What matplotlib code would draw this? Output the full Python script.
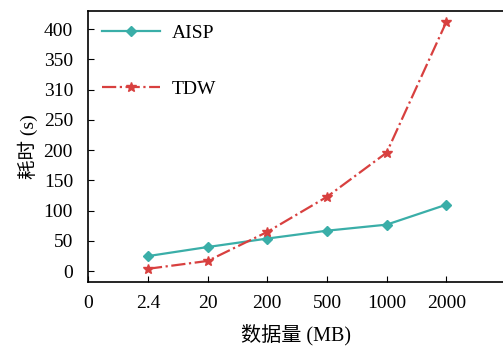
import numpy as np
import matplotlib
matplotlib.use("Agg")
import matplotlib.pyplot as plt

# data
x_labels = ["0", "2.4", "20", "200", "500", "1000", "2000"]
aisp = [25, 40, 54, 67, 77, 110]
tdw = [4, 17, 65, 123, 196, 412]
y_ticks = [0, 50, 100, 150, 200, 250, 300, 350, 400]
y_tick_labels = ["0", "50", "100", "150", "200", "250", "310", "350", "400"]

plt.rcParams['font.family'] = ['Liberation Serif', 'Noto Sans CJK SC']
plt.rcParams['font.size'] = 14

fig = plt.figure(figsize=(5.03, 3.47), dpi=100)
ax = fig.add_axes([0.1755, 0.187, 0.8245, 0.781])

pos = np.arange(1, len(aisp) + 1)
ax.plot(pos, aisp, '-', color='#3aaea8', linewidth=1.6, marker='D', markersize=5.5,
        label='AISP')
ax.plot(pos, tdw, '-.', color='#d8403f', linewidth=1.6, marker='*', markersize=7.5,
        label='TDW')

ax.set_xlim(0, 6.95)
ax.set_ylim(-18, 430)
ax.set_xticks(np.arange(len(x_labels)))
ax.set_xticklabels(x_labels)
ax.set_yticks(y_ticks)
ax.set_yticklabels(y_tick_labels)
ax.tick_params(axis='x', direction='in', length=4, pad=9)
ax.tick_params(axis='y', direction='in', length=4, pad=11)
ax.spines['right'].set_visible(False)
for s in ['left', 'bottom', 'top']:
  ax.spines[s].set_linewidth(1.2)

ax.set_xlabel('数据量 (MB)', fontsize=14.5, labelpad=9)
ax.set_ylabel('耗时 (s)', fontsize=14, labelpad=4)

ax.legend(loc='upper left', frameon=False, handlelength=3.0, handletextpad=0.6,
          labelspacing=2.0, bbox_to_anchor=(-0.005, 1.01), borderaxespad=0.4,
          fontsize=14)

fig.savefig("out.png", dpi=100)
